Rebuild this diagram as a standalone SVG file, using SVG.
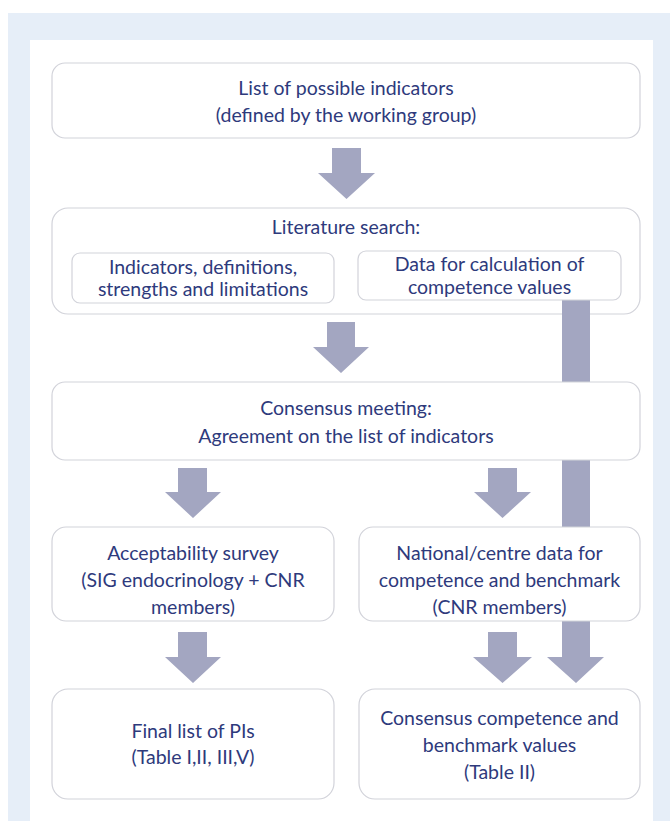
<svg xmlns="http://www.w3.org/2000/svg" width="670" height="821" viewBox="0 0 670 821">
<style>
.box{fill:#ffffff;stroke:#d2d3da;stroke-width:1.2}
.arr{fill:#a3a6c1}
text{font-family:Lato,"Liberation Sans",sans-serif;font-size:19.5px;fill:#2e3a7c;text-anchor:middle}
</style>
<rect x="0" y="0" width="670" height="821" fill="#ffffff"/>
<rect x="8" y="13" width="662" height="808" fill="#e6eef8"/>
<rect x="30" y="40" width="623" height="781" fill="#ffffff"/>
<g id="n1">
<rect class="box" x="52" y="63" width="588" height="75" rx="13"/>
<text x="346" y="95">List of possible indicators</text>
<text x="346" y="122">(defined by the working group)</text>
</g>
<g id="n2">
<rect class="box" x="52" y="208" width="588" height="106" rx="16"/>
<text x="346" y="234">Literature search:</text>
</g>
<g id="connectors">
<polygon class="arr" points="562,300 590,300 590,657 604,657 576,683 547,657 562,657"/>
<polygon class="arr" points="332,148 361,148 361,173 375,173 346.5,199 318,173 332,173"/>
<polygon class="arr" points="327,322 355,322 355,347 369,347 341,373 313,347 327,347"/>
<polygon class="arr" points="178,468 207,468 207,492 221,492 193,518 165,492 178,492"/>
<polygon class="arr" points="488,468 517,468 517,492 531,492 502.5,518 474,492 488,492"/>
<polygon class="arr" points="178,632 207,632 207,657 221,657 193,683 165,657 178,657"/>
<polygon class="arr" points="488,632 517,632 517,657 532,657 502.5,683 473,657 488,657"/>
</g>
<g id="n2a">
<rect class="box" x="72" y="253" width="262" height="50" rx="8"/>
<text x="203" y="274">Indicators, definitions,</text>
<text x="203" y="296">strengths and limitations</text>
</g>
<g id="n2b">
<rect class="box" x="358" y="251" width="263" height="49" rx="8"/>
<text x="489.5" y="271">Data for calculation of</text>
<text x="489.5" y="294">competence values</text>
</g>
<g id="n3">
<rect class="box" x="52" y="382" width="588" height="78" rx="13"/>
<text x="346" y="415">Consensus meeting:</text>
<text x="346" y="443">Agreement on the list of indicators</text>
</g>
<g id="n4">
<rect class="box" x="52" y="527" width="282" height="94" rx="14"/>
<text x="193" y="560">Acceptability survey</text>
<text x="193" y="587">(SIG endocrinology + CNR</text>
<text x="193" y="614">members)</text>
</g>
<g id="n5">
<rect class="box" x="359" y="527" width="281" height="94" rx="14"/>
<text x="499.5" y="560">National/centre data for</text>
<text x="499.5" y="587">competence and benchmark</text>
<text x="499.5" y="614">(CNR members)</text>
</g>
<g id="n6">
<rect class="box" x="52" y="689" width="282" height="110" rx="16"/>
<text x="193" y="738">Final list of PIs</text>
<text x="193" y="764">(Table I,II, III,V)</text>
</g>
<g id="n7">
<rect class="box" x="359" y="689" width="281" height="110" rx="16"/>
<text x="499.5" y="725">Consensus competence and</text>
<text x="499.5" y="752">benchmark values</text>
<text x="499.5" y="779">(Table II)</text>
</g>
</svg>
